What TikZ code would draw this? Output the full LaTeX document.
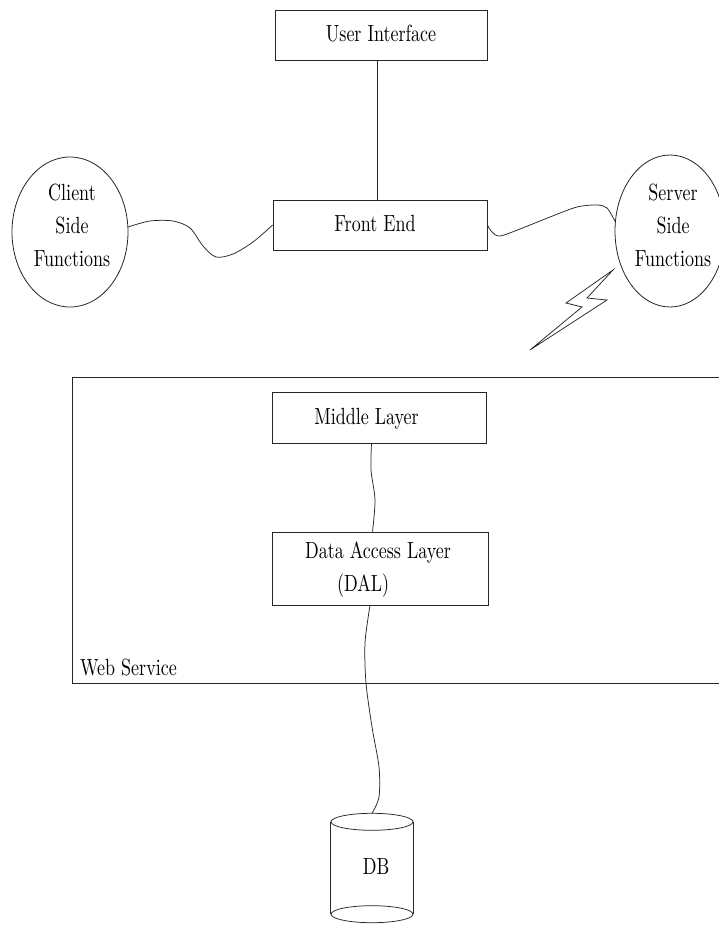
\documentclass[tikz,border=0pt]{standalone}
\usepackage{fontspec}
\setmainfont{lmroman10-regular.otf}
\usepackage{graphicx}
\usetikzlibrary{shapes.geometric}
\definecolor{linecol}{gray}{0.15}
\newcommand\lbl[1]{\scalebox{1}[1.3]{\fontsize{18}{25.4}\selectfont\begin{tabular}{@{}c@{}}#1\end{tabular}}}
\begin{document}
\begin{tikzpicture}[x=1pt,y=-1pt,
  boxnode/.style={draw=linecol, rectangle, inner sep=0pt, line width=0.8pt},
  ell/.style={draw=linecol, ellipse, inner sep=0pt, line width=0.8pt},
  wire/.style={draw=linecol, line width=0.75pt},
  txt/.style={inner sep=0pt}]
\clip (0,0) rectangle (719,926);
\fill[white] (0,0) rectangle (719,926);

% boxes
\node[boxnode, minimum width=212pt, minimum height=50pt] (ui) at (381,35) {\lbl{User Interface}};
\node[boxnode, minimum width=214pt, minimum height=50pt] (fe) at (380,225) {\lbl{Front End\hspace*{10pt}}};
\node[ell, minimum width=116pt, minimum height=150pt] (cs) at (70,232) {};
\node[txt] (cstxt) at (72,227) {\lbl{Client\\Side\\Functions}};
\node[ell, minimum width=110pt, minimum height=152pt] (ss) at (670,231) {};
\node[txt] (sstxt) at (673,227) {\lbl{Server\\Side\\Functions}};

% web service
\node[draw=linecol, line width=0.9pt, anchor=north west, minimum width=660pt, minimum height=306pt, inner sep=0pt] (ws) at (72,377) {};
\node[txt, anchor=west] (wslbl) at (80,668.4) {\lbl{Web Service}};
\node[boxnode, minimum width=214pt, minimum height=51pt] (ml) at (379,417.5) {\lbl{Middle Layer\hspace*{25pt}}};
\node[boxnode, minimum width=216pt, minimum height=73pt] (dal) at (380,568.5) {\lbl{Data Access Layer\hspace*{4pt}\\(DAL)\hspace*{34pt}}};

% database
\node[txt, minimum width=82pt, minimum height=92pt] (db) at (372,868) {\lbl{\hspace*{8pt}DB}};
\draw[wire] (db.north west) -- (db.south west) (db.north east) -- (db.south east);
\draw[wire] (db.north) ellipse [x radius=41pt, y radius=8.5pt];
\draw[wire] (db.south) ellipse [x radius=41pt, y radius=8.5pt];
\coordinate (dbtop) at ([yshift=8.5pt]db.north);

% connectors
\draw[wire] ([xshift=-4pt]ui.south) -- ([xshift=-4pt]ui.south |- fe.north);
\draw[wire] plot[smooth] coordinates {(cs.5) (150,221) (173,221) (190,228) (203,246) (216,257) (233,254) (253,242) (fe.west)};
\draw[wire] plot[smooth] coordinates {(fe.east) (492,232) (500,236) (520,229) (550,217) (577,207) (597,205) (607,208) (ss.170)};
\draw[wire] plot[smooth] coordinates {([xshift=-7.5pt]ml.south) (371,470) (375,500) ([xshift=-7.5pt]dal.north)};
\draw[wire] plot[smooth] coordinates {([xshift=-10pt]dal.south) (365,643) (366,683) (372,727) (379,767) (379,797) (dbtop)};

% lightning
\draw[wire, line join=miter] (613,270) -- (566,303) -- (582,307) -- (530,350) -- (607,300) -- (587,298) -- cycle;
\end{tikzpicture}
\end{document}
